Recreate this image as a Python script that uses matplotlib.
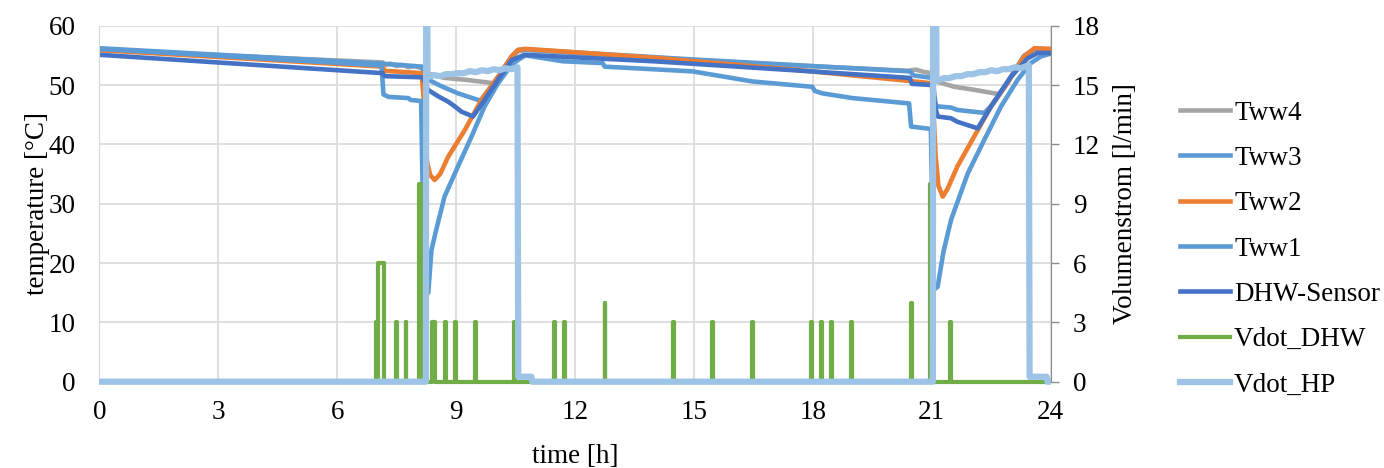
import numpy as np
import matplotlib
matplotlib.use("Agg")
import matplotlib.pyplot as plt
from matplotlib.transforms import Bbox, TransformedBbox

plt.rcParams['font.family'] = ['Liberation Serif', 'DejaVu Serif']
FS = 19.5

# storage temperatures [degC] over time [h]
t_tww4 = [0, 7.15, 7.2, 7.35, 7.5, 7.65, 7.8, 7.95, 8.15, 8.25, 8.71, 9.22, 9.6, 9.95,
          10.06, 10.4, 10.56, 10.75, 14.0, 17.5, 19.5, 20.4, 20.6, 20.8, 21.0, 21.12,
          21.57, 22.07, 22.58, 22.7, 22.91, 23.33, 23.59, 24.0]
tww4 = [55.9, 53.8, 53.4, 53.6, 53.2, 53.4, 53.0, 53.2, 52.8, 52.0, 51.2, 50.9, 50.6, 50.3,
        51.3, 54.7, 55.7, 55.9, 54.6, 53.3, 52.7, 52.4, 52.6, 52.2, 52.0, 50.6,
        49.7, 49.2, 48.6, 48.5, 50.5, 54.9, 56.0, 55.9]

t_tww3 = [0, 7.15, 8.15, 8.22, 8.3, 8.63, 9.05, 9.55, 9.62, 10.06, 10.4, 10.56, 10.75,
          15.0, 20.45, 20.55, 21.02, 21.1, 21.15, 21.49, 21.65, 22.33, 22.5, 22.91, 23.33,
          23.59, 24.0]
tww3 = [56.2, 53.6, 53.1, 51.0, 50.9, 49.8, 48.6, 47.5, 47.4, 51.3, 54.8, 55.9, 56.0,
        54.3, 52.3, 51.6, 51.2, 46.6, 46.4, 46.2, 45.8, 45.3, 46.5, 50.4, 54.9,
        56.1, 56.0]

t_tww2 = [0, 7.15, 7.2, 8.13, 8.18, 8.22, 8.27, 8.35, 8.46, 8.6, 8.8, 9.22, 9.64, 10.06,
          10.4, 10.56, 10.75, 14.0, 17.5, 20.43, 21.0, 21.05, 21.1, 21.17, 21.28, 21.4,
          21.65, 22.07, 22.5, 22.91, 23.33, 23.59, 24.0]
tww2 = [55.9, 53.1, 52.4, 52.0, 48.0, 41.0, 37.0, 34.8, 34.0, 35.0, 37.9, 42.4, 47.5, 51.4,
        54.8, 55.9, 56.1, 54.6, 52.6, 50.7, 50.3, 45.0, 38.0, 33.0, 31.2, 32.5,
        36.3, 41.3, 46.4, 50.3, 54.8, 56.2, 56.1]

t_tww1 = [0, 7.12, 7.17, 7.3, 7.8, 7.85, 8.12, 8.2, 8.3, 8.38, 8.5, 8.71, 9.05, 9.39, 9.72,
          10.06, 10.4, 10.56, 10.75, 11.7, 12.7, 12.75, 14.97, 16.48, 17.99, 18.05, 18.24,
          19.0, 20.43, 20.48, 20.98, 21.05, 21.15, 21.3, 21.49, 21.91, 22.33, 22.75,
          23.17, 23.5, 23.75, 24.0]
tww1 = [56.1, 53.3, 48.4, 48.0, 47.8, 47.5, 47.3, 14.5, 15.0, 22.2, 25.6, 31.2, 36.3, 41.3, 46.4,
        50.3, 53.4, 54.2, 55.0, 54.0, 53.7, 53.1, 52.3, 50.6, 49.7, 49.0, 48.6,
        47.8, 46.9, 43.0, 42.6, 15.5, 16.0, 22.0, 27.3, 35.1, 40.8, 46.4,
        50.9, 53.7, 54.8, 55.3]

t_dhw = [0, 7.15, 7.2, 8.15, 8.22, 8.29, 8.55, 8.8, 8.97, 9.14, 9.43, 9.72, 10.06, 10.4,
         10.73, 14.0, 17.5, 20.45, 20.5, 21.02, 21.1, 21.15, 21.49, 21.65, 22.16, 22.5,
         23.0, 23.42, 23.67, 24.0]
dhw_sensor = [55.1, 52.0, 51.5, 51.3, 50.5, 49.2, 48.1, 47.2, 46.4, 45.5, 44.7, 47.5, 50.9, 54.2,
              55.1, 54.0, 52.5, 51.2, 50.2, 50.0, 46.0, 44.7, 44.4, 43.8, 42.7, 46.4,
              51.4, 54.5, 55.4, 55.4]

# hot water draw-offs [l/min]: start [h], duration [h], flow
draw_start = [6.97, 7.04, 7.48, 7.73, 8.06, 8.4, 8.73, 8.98, 9.48, 10.47, 11.48, 11.73,
              12.75, 14.47, 15.47, 16.47, 17.96, 18.21, 18.46, 18.97, 20.47, 20.96, 21.46]
draw_len = [0.03, 0.13, 0.02, 0.02, 0.05, 0.07, 0.02, 0.02, 0.02, 0.02, 0.02, 0.02,
            0.02, 0.02, 0.02, 0.02, 0.02, 0.02, 0.02, 0.02, 0.04, 0.04, 0.02]
draw_flow = [3, 6, 3, 3, 10, 3, 3, 3, 3, 3, 3, 3,
             4, 3, 3, 3, 3, 3, 3, 3, 4, 10, 3]
draw_end = 23.9

# heat pump flow [l/min]
t_hp = [0, 8.24, 8.25, 8.27, 8.28,
        8.45, 8.6, 8.75, 8.9, 9.05, 9.2, 9.35, 9.5, 9.65, 9.8, 9.95, 10.1, 10.25, 10.4, 10.55,
        10.57, 10.9, 10.92,
        21.03, 21.04, 21.1, 21.12,
        21.3, 21.45, 21.6, 21.75, 21.9, 22.05, 22.2, 22.35, 22.5, 22.65, 22.8, 22.95, 23.1, 23.25, 23.45,
        23.47, 23.9, 23.92, 24.0]
vdot_hp = [0, 0, 30, 30, 15.4,
           15.5, 15.45, 15.55, 15.55, 15.6, 15.6, 15.7, 15.65, 15.75, 15.7, 15.8, 15.75, 15.85, 15.8, 15.9,
           0.25, 0.25, 0,
           0, 30, 30, 15.2,
           15.35, 15.35, 15.45, 15.45, 15.55, 15.55, 15.65, 15.65, 15.75, 15.7, 15.8, 15.8, 15.9, 15.85, 16.0,
           0.25, 0.25, 0, 0]

# build step series for the draw-offs
t_draw = [0.0]
vdot_dhw = [0.0]
for s, d, f in zip(draw_start, draw_len, draw_flow):
    t_draw += [s, s, s + d, s + d]
    vdot_dhw += [0, f, f, 0]
t_draw.append(draw_end)
vdot_dhw.append(0)

c_gray = '#A5A5A5'
c_blue = '#5B9BD5'
c_orange = '#ED7D31'
c_dark = '#4472C4'
c_green = '#70AD47'
c_light = '#9DC3E6'
c_grid = '#D9D9D9'

fig = plt.figure(figsize=(13.84, 4.68), dpi=100)
ax = fig.add_axes([99.3 / 1384, 1 - 381.7 / 468, (1050.6 - 99.3) / 1384, 356 / 468])

lw = 3.3
h4, = ax.plot(t_tww4, tww4, color=c_gray, lw=lw, label='Tww4')
h3, = ax.plot(t_tww3, tww3, color=c_blue, lw=lw, label='Tww3')
h2, = ax.plot(t_tww2, tww2, color=c_orange, lw=lw, label='Tww2')
h1, = ax.plot(t_tww1, tww1, color=c_blue, lw=lw, label='Tww1')
hd, = ax.plot(t_dhw, dhw_sensor, color=c_dark, lw=lw, label='DHW-Sensor')

ax.set_xlim(0, 24)
ax.set_ylim(0, 60)
ax.set_xticks(range(0, 25, 3))
ax.set_yticks(range(0, 61, 10))
ax.grid(True, color=c_grid, lw=1.2)
ax.set_axisbelow(True)
ax.tick_params(axis='both', length=0, labelsize=FS)
ax.tick_params(axis='x', pad=13)
ax.tick_params(axis='y', pad=17)
for side in ['top', 'right']:
    ax.spines[side].set_visible(False)
ax.spines['left'].set_color(c_grid)
ax.spines['bottom'].set_color(c_grid)

ax2 = ax.twinx()
hv, = ax2.plot(t_draw, vdot_dhw, color=c_green, lw=3.0, label='Vdot_DHW')
hh, = ax2.plot(t_hp, vdot_hp, color=c_light, lw=4.5, label='Vdot_HP')
ax2.set_ylim(0, 18)
ax2.set_yticks(range(0, 19, 3))
ax2.tick_params(axis='y', length=6, width=1, color='#8C8C8C', labelsize=FS, pad=10)
for side in ['top', 'left', 'bottom']:
    ax2.spines[side].set_visible(False)
ax2.spines['right'].set_color('#8C8C8C')

# let the zero lines show fully below the axis edge
clip = TransformedBbox(Bbox([[0, -0.03], [1, 1]]), ax2.transAxes)
for ln in (hv, hh):
    ln.set_clip_box(clip)

fig.text(38 / 1384, 1 - 203.7 / 468, 'temperature [°C]', rotation=90,
         ha='center', va='center', fontsize=FS)
fig.text(1125 / 1384, 1 - 203.7 / 468, 'Volumenstrom [l/min]', rotation=90,
         ha='center', va='center', fontsize=FS)
fig.text(575 / 1384, 1 - 463 / 468, 'time [h]', ha='center', va='baseline', fontsize=FS)

fig.legend([h4, h3, h2, h1, hd, hv, hh],
           ['Tww4', 'Tww3', 'Tww2', 'Tww1', 'DHW-Sensor', 'Vdot_DHW', 'Vdot_HP'],
           loc='center left', bbox_to_anchor=(1180 / 1384, 1 - 249 / 468),
           frameon=False, fontsize=FS, handlelength=1.85, handletextpad=0.15,
           labelspacing=0.75, borderpad=0, borderaxespad=0)

fig.savefig('out.png', dpi=100)
